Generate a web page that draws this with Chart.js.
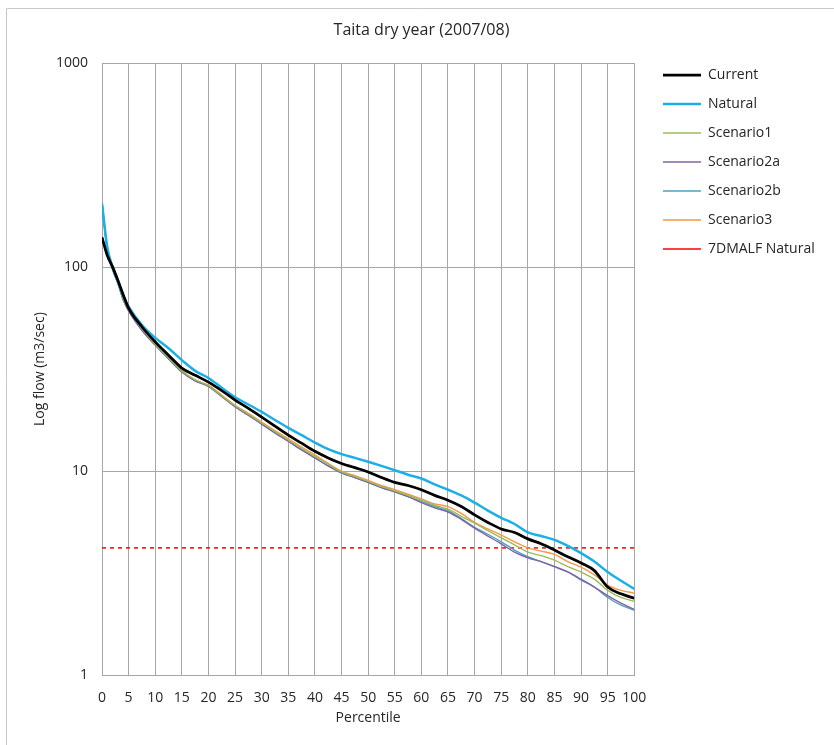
<!DOCTYPE html>
<html>
<head>
<meta charset="utf-8">
<script src="https://cdn.jsdelivr.net/npm/chart.js@4"></script>
<style>
  body { margin: 0; background: #fff; }
  #wrap { width: 834px; height: 745px; position: relative; }
</style>
</head>
<body>
<div id="wrap"><canvas id="flowChart"></canvas></div>
<script>
// ── Data ──────────────────────────────────────────────────────────────────────
const percentiles = [0, 1, 2, 3, 4, 5, 7.5, 10, 12.5, 15, 17.5, 20, 22.5, 25, 27.5, 30, 32.5, 35, 37.5, 40,
  42.5, 45, 47.5, 50, 52.5, 55, 57.5, 60, 62.5, 65, 67.5, 70, 72.5, 75, 77.5, 80, 82.5, 85, 87.5, 90,
  92.5, 95, 97.5, 100];

const current = [140, 114, 100, 86, 73, 63, 51, 43, 37, 32, 29.5, 27.3, 24.8, 22.3, 20.3, 18.4, 16.6, 15.0, 13.7, 12.5,
  11.6, 10.9, 10.4, 9.9, 9.3, 8.8, 8.5, 8.1, 7.6, 7.2, 6.7, 6.1, 5.6, 5.2, 5.0, 4.65, 4.4, 4.1, 3.8, 3.54,
  3.25, 2.7, 2.5, 2.38];

const natural = [205, 125, 100, 85, 72, 64, 52, 45, 40, 35, 31, 28.6, 25.6, 23, 21.2, 19.5, 17.8, 16.3, 15.0, 13.8,
  12.8, 12.1, 11.6, 11.1, 10.6, 10.1, 9.6, 9.2, 8.6, 8.1, 7.6, 7.0, 6.4, 5.9, 5.5, 5.0, 4.8, 4.6, 4.3, 3.96,
  3.6, 3.2, 2.9, 2.64];

const scenario1 = [210, 122, 98, 84, 70, 62, 50, 42, 36, 31, 28, 26.2, 23.4, 20.9, 19.0, 17.2, 15.6, 14.2, 12.9, 11.8,
  10.8, 9.9, 9.4, 8.9, 8.4, 8.0, 7.6, 7.2, 6.8, 6.5, 6.0, 5.55, 5.1, 4.7, 4.35, 4.0, 3.85, 3.66, 3.4, 3.2,
  2.95, 2.6, 2.4, 2.3];

const scenario2a = [205, 121, 97, 83, 69, 61, 49, 41.5, 35.5, 30.6, 27.7, 26, 23.2, 20.7, 18.8, 17.0, 15.4, 14.0, 12.7, 11.6,
  10.6, 9.8, 9.3, 8.8, 8.3, 7.9, 7.5, 7.0, 6.6, 6.3, 5.8, 5.25, 4.8, 4.4, 4.0, 3.75, 3.6, 3.4, 3.2, 2.95,
  2.7, 2.45, 2.25, 2.1];

const scenario2b = [205, 121, 97, 83, 69, 61, 49, 41.5, 35.5, 30.6, 27.7, 26, 23.2, 20.7, 18.8, 17.0, 15.4, 14.0, 12.7, 11.6,
  10.6, 9.8, 9.3, 8.8, 8.3, 7.9, 7.5, 7.1, 6.7, 6.4, 5.85, 5.3, 4.9, 4.5, 4.1, 3.8, 3.6, 3.4, 3.2, 2.92,
  2.7, 2.4, 2.2, 2.08];

const scenario3 = [205, 122, 98, 84, 70, 62, 50, 42, 36, 31, 28, 26.4, 23.6, 21, 19.2, 17.4, 15.8, 14.4, 13.1, 12.0,
  10.9, 10.0, 9.5, 9.0, 8.5, 8.1, 7.7, 7.3, 6.9, 6.7, 6.2, 5.6, 5.2, 4.85, 4.5, 4.2, 4.05, 3.9, 3.6, 3.38,
  3.1, 2.76, 2.6, 2.52];

const malfNatural = 4.2;          // 7DMALF Natural, flat line
const malfRange = [0, 100];
const yTicks = [1, 10, 100, 1000];

function pts(values) {
  return values.map((v, i) => ({ x: percentiles[i], y: v }));
}

// ── Helpers / plugins ─────────────────────────────────────────────────────────
const FONT = "'Open Sans', 'Noto Sans', sans-serif";
const TEXT = '#262626';
const GRID = '#a6a6a6';

const frame = {
  id: 'frame',
  beforeDraw(chart) {
    const ctx = chart.ctx;
    ctx.save();
    ctx.strokeStyle = '#c8c8c8';
    ctx.lineWidth = 1;
    ctx.beginPath();
    ctx.moveTo(6.5, 745);
    ctx.lineTo(6.5, 8.5);
    ctx.lineTo(834, 8.5);
    ctx.stroke();
    ctx.restore();
  }
};

// move the legend block to where the original sits
const legendSpot = {
  id: 'legendSpot',
  afterLayout(chart) {
    const lg = chart.legend;
    if (!lg) return;
    lg.left = 648; lg.right = 648 + lg.width;
    lg.top = 53; lg.bottom = 53 + lg.height;
  }
};

function line(label, values, color, width) {
  return {
    label: label, data: pts(values), borderColor: color, backgroundColor: color,
    borderWidth: width, pointRadius: 0, tension: 0, cubicInterpolationMode: 'monotone'
  };
}

// ── Chart ─────────────────────────────────────────────────────────────────────
const flowChart = new Chart(document.getElementById('flowChart'), {
  type: 'line',
  data: {
    datasets: [
      line('Current', current, '#000000', 2.75),
      line('Natural', natural, '#1aafe6', 2.5),
      line('Scenario1', scenario1, '#9bbb59', 1.4),
      line('Scenario2a', scenario2a, '#8064a2', 1.4),
      line('Scenario2b', scenario2b, '#4f9fc0', 1.4),
      line('Scenario3', scenario3, '#f79646', 1.4),
      {
        label: '7DMALF Natural',
        data: malfRange.map(x => ({ x: x, y: malfNatural })),
        borderColor: '#ff0000', backgroundColor: '#ff0000',
        borderWidth: 1.5, borderDash: [4, 4], pointRadius: 0
      }
    ]
  },
  options: {
    responsive: true, maintainAspectRatio: false, animation: false,
    layout: { padding: { left: 32, right: 23, top: 0, bottom: 15 } },
    plugins: {
      title: {
        display: true, text: 'Taita dry year (2007/08)', color: TEXT,
        font: { family: FONT, size: 16, weight: 'normal' },
        padding: { top: 21, bottom: 23 }
      },
      legend: {
        position: 'right', align: 'start',
        labels: {
          color: TEXT, font: { family: FONT, size: 14 },
          usePointStyle: true, pointStyle: 'line', pointStyleWidth: 38,
          padding: 15
        }
      },
      tooltip: { enabled: false }
    },
    scales: {
      x: {
        type: 'linear', min: 0, max: 100,
        afterFit(scale) { scale.height = 55; },
        ticks: {
          stepSize: 5, autoSkip: false, maxRotation: 0, padding: 15,
          color: TEXT, font: { family: FONT, size: 14 }
        },
        grid: { color: GRID, lineWidth: 1, drawTicks: false },
        border: { color: GRID },
        title: {
          display: true, text: 'Percentile', color: TEXT,
          font: { family: FONT, size: 14 }, padding: { top: 0, bottom: 4 }
        }
      },
      y: {
        type: 'logarithmic', min: 1, max: 1000,
        afterFit(scale) { scale.width = 70; },
        afterBuildTicks(scale) { scale.ticks = yTicks.map(v => ({ value: v })); },
        ticks: {
          padding: 14, color: TEXT, font: { family: FONT, size: 14 },
          callback: v => String(v)
        },
        grid: { color: GRID, lineWidth: 1, drawTicks: false },
        border: { color: GRID },
        title: {
          display: true, text: 'Log flow (m3/sec)', color: TEXT,
          font: { family: FONT, size: 14 }, padding: { top: 0, bottom: 0 }
        }
      }
    }
  },
  plugins: [frame, legendSpot]
});
</script>
</body>
</html>
